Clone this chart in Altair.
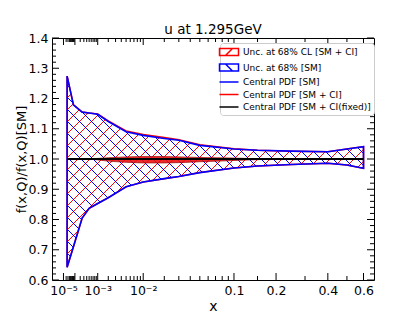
import altair as alt
import numpy as np
import pandas as pd

# ---------------- data ----------------
x_pts = [2.5e-5, 8e-5, 2.5e-4, 5e-4, 1e-3, 2e-3, 5e-3, 1e-2, 2e-2, 3e-2, 5e-2,
         0.1, 0.15, 0.25, 0.4, 0.5, 0.6]
sm_upper = [1.274, 1.179, 1.155, 1.152, 1.148, 1.124, 1.090, 1.078, 1.068, 1.062,
            1.045, 1.033, 1.029, 1.026, 1.024, 1.033, 1.041]
sm_lower = [0.642, 0.710, 0.805, 0.837, 0.853, 0.872, 0.908, 0.924, 0.935, 0.942,
            0.955, 0.970, 0.977, 0.982, 0.986, 0.980, 0.969]
ci_upper = [1.274, 1.179, 1.155, 1.152, 1.149, 1.126, 1.093, 1.081, 1.071, 1.064,
            1.047, 1.034, 1.029, 1.026, 1.024, 1.033, 1.041]
ci_lower = [0.642, 0.710, 0.805, 0.837, 0.853, 0.872, 0.908, 0.924, 0.935, 0.942,
            0.955, 0.970, 0.977, 0.982, 0.986, 0.980, 0.969]
central_sm = [1.0, 1.0, 1.0, 1.0, 1.0, 1.0, 1.0, 1.0, 1.0, 1.0,
              1.0, 1.0, 1.0, 1.0, 1.0, 1.0, 1.0]
# central SM + CI curve: its spread around 1 (upper / lower edge of the red stroke)
central_ci_hi = [1.0, 1.0, 1.0, 1.0, 1.002, 1.004, 1.007, 1.008, 1.008, 1.007,
                 1.005, 1.003, 1.001, 1.0, 1.0, 1.0, 1.0]
central_ci_lo = [1.0, 1.0, 1.0, 1.0, 0.997, 0.993, 0.989, 0.987, 0.987, 0.988,
                 0.991, 0.995, 0.998, 1.0, 1.0, 1.0, 1.0]
central_fixed = [1.0, 1.0, 1.0, 1.0, 1.0, 1.0, 1.0, 1.0, 1.0, 1.0,
                 1.0, 1.0, 1.0, 1.0, 1.0, 1.0, 1.0]

x_major = [1e-5, 1e-4, 1e-3, 1e-2, 0.1, 0.2, 0.4, 0.6]
x_labels = ["10\u207b\u2075", "", "10\u207b\u00b3", "10\u207b\u00b2", "0.1", "0.2", "0.4", "0.6"]
x_minor = [2e-5, 3e-5, 4e-5, 5e-5, 6e-5, 7e-5, 8e-5, 9e-5,
           2e-4, 3e-4, 4e-4, 5e-4, 6e-4, 7e-4, 8e-4, 9e-4,
           2e-3, 3e-3, 4e-3, 5e-3, 6e-3, 7e-3, 8e-3, 9e-3,
           0.02, 0.03, 0.04, 0.05, 0.06, 0.07, 0.08, 0.09,
           0.15, 0.3, 0.5]
y_major = [0.6, 0.7, 0.8, 0.9, 1.0, 1.1, 1.2, 1.3, 1.4]
y_minor = [round(v, 2) for v in np.arange(0.62, 1.4, 0.02) if abs(v * 10 - round(v * 10)) > 1e-6]

legend_labels = ["Unc. at 68% CL [SM + CI]", "Unc. at 68% [SM]", "Central PDF [SM]",
                 "Central PDF [SM + CI]", "Central PDF [SM + CI(fixed)]"]
legend_colors = ["red", "blue", "blue", "red", "black"]

# ---------------- geometry of the plot ----------------
W, H = 322, 242
XMAX, EXP = 0.67, 0.3
Y0, Y1 = 0.6, 1.4
FONT = "DejaVu Sans"


def to_px(x):
    return W * (np.asarray(x, dtype=float) / XMAX) ** EXP


def from_px(p):
    return XMAX * (np.asarray(p, dtype=float) / W) ** (1 / EXP)


def to_py(y):
    return H * (Y1 - np.asarray(y, dtype=float)) / (Y1 - Y0)


def from_py(p):
    return Y1 - np.asarray(p, dtype=float) * (Y1 - Y0) / H


def hatch(xs, up, lo, spacing, direction, phase=0.0):
    """45-degree hatch segments clipped to the band, returned in data units."""
    bx, bu, bl = to_px(xs), to_py(up), to_py(lo)
    p = np.append(np.arange(bx[0], bx[-1], 0.1), bx[-1])
    u = np.interp(p, bx, bu)
    l = np.interp(p, bx, bl)
    if direction > 0:
        cmin, cmax = (u - p).min(), (l - p).max()
    else:
        cmin, cmax = (u + p).min(), (l + p).max()
    c = np.floor((cmin - phase) / spacing) * spacing + phase
    segs = []
    while c <= cmax:
        yl = p + c if direction > 0 else c - p
        inside = (yl >= u) & (yl <= l)
        edges = np.flatnonzero(np.diff(np.concatenate([[0], inside.astype(int), [0]])))
        for s, e in zip(edges[::2], edges[1::2] - 1):
            if e > s:
                segs.append((float(from_px(p[s])), float(from_py(yl[s])),
                             float(from_px(p[e])), float(from_py(yl[e]))))
        c += spacing
    return pd.DataFrame(segs, columns=["x", "y", "x2", "y2"])


band = pd.DataFrame({"x": x_pts, "sm_up": sm_upper, "sm_lo": sm_lower,
                     "ci_up": ci_upper, "ci_lo": ci_lower,
                     "c_hi": central_ci_hi, "c_lo": central_ci_lo,
                     "c_sm": central_sm, "c_fx": central_fixed})
red_hatch = hatch(x_pts, ci_upper, ci_lower, 12.0, -1, 3.0)
blue_hatch = hatch(x_pts, sm_upper, sm_lower, 12.0, +1, 8.0)

xscale = alt.Scale(type="pow", exponent=EXP, domain=[0, XMAX], nice=False, zero=False)
yscale = alt.Scale(domain=[Y0, Y1], nice=False, zero=False)

label_expr = " : ".join(
    f"abs(datum.value - {v}) < {v * 1e-3} ? '{t}'" for v, t in zip(x_major, x_labels)
) + " : ''"

xaxis = alt.Axis(values=x_major, labelExpr=label_expr, ticks=False, domain=False, grid=False,
                 labelFont=FONT, labelFontSize=12.5, labelColor="black", labelPadding=4,
                 labelOverlap=False, labelFlush=False, title="x", titleFont=FONT,
                 titleFontSize=14, titleFontWeight="normal", titleColor="black",
                 titleY=30, titleBaseline="alphabetic")
yaxis = alt.Axis(values=y_major, format=".1f", ticks=False, domain=False, grid=False,
                 labelFont=FONT, labelFontSize=12.5, labelColor="black", labelPadding=4,
                 title="f(x,Q)/f(x,Q)[SM]", titleFont=FONT, titleFontSize=13,
                 titleFontWeight="normal", titleColor="black", titleX=-31, titleY=H / 2,
                 titleBaseline="middle", titleAngle=270)


def X(field="x"):
    return alt.X(f"{field}:Q", scale=xscale, axis=xaxis)


def Y(field):
    return alt.Y(f"{field}:Q", scale=yscale, axis=yaxis)


base_band = alt.Chart(band)
red_area = base_band.mark_area(fillOpacity=0, stroke="red", strokeWidth=1.5).encode(
    x=X(), y=Y("ci_up"), y2="ci_lo")
blue_area = base_band.mark_area(fillOpacity=0, stroke="blue", strokeWidth=1.6).encode(
    x=X(), y=Y("sm_up"), y2="sm_lo")
red_h = alt.Chart(red_hatch).mark_rule(color="red", strokeWidth=1).encode(
    x=X(), x2="x2", y=Y("y"), y2="y2")
blue_h = alt.Chart(blue_hatch).mark_rule(color="blue", strokeWidth=1).encode(
    x=X(), x2="x2", y=Y("y"), y2="y2")

line_sm = base_band.mark_line(color="blue", strokeWidth=1.6).encode(x=X(), y=Y("c_sm"))
line_ci = base_band.mark_area(color="#ee1111", opacity=0.9, stroke="#990000",
                              strokeWidth=0.8).encode(x=X(), y=Y("c_hi"), y2="c_lo")
line_fx = base_band.mark_line(color="black", strokeWidth=1.8).encode(x=X(), y=Y("c_fx"))

# inward ticks on all four sides
ymaj = pd.DataFrame({"v": y_major})
ymin = pd.DataFrame({"v": y_minor})
xmaj = pd.DataFrame({"v": x_major})
xmin = pd.DataFrame({"v": x_minor})
tick_layers = []
for df, ln in ((ymaj, 7), (ymin, 4)):
    tick_layers.append(alt.Chart(df).mark_rule(color="black", strokeWidth=1).encode(
        y=Y("v"), x=alt.value(0), x2=alt.value(ln)))
    tick_layers.append(alt.Chart(df).mark_rule(color="black", strokeWidth=1).encode(
        y=Y("v"), x=alt.value(W - ln), x2=alt.value(W)))
for df, ln in ((xmaj, 7), (xmin, 4)):
    tick_layers.append(alt.Chart(df).mark_rule(color="black", strokeWidth=1).encode(
        x=X("v"), y=alt.value(H - ln), y2=alt.value(H)))
    tick_layers.append(alt.Chart(df).mark_rule(color="black", strokeWidth=1).encode(
        x=X("v"), y=alt.value(0), y2=alt.value(ln)))

# legend (invisible carrier points); paths drawn wider than the nominal symbol size
rect = "M-1.9,-0.7L1.9,-0.7L1.9,0.7L-1.9,0.7Z"
shapes = [rect + "M-0.7,0.7L0.7,-0.7", rect + "M-0.7,-0.7L0.7,0.7",
          "M-1.9,0L1.9,0", "M-1.9,0L1.9,0", "M-1.9,0L1.9,0"]
leg_df = pd.DataFrame({"series": legend_labels, "x": [0.1] * 5, "y": [1.0] * 5})
leg = dict(orient="none", legendX=168, legendY=5, title=None, labelFont=FONT,
           labelFontSize=9, labelColor="black", symbolSize=100, symbolStrokeWidth=1.5,
           symbolOpacity=1, padding=3, rowPadding=1.5, strokeColor="#cccccc",
           fillColor="white", cornerRadius=3, labelOffset=8, labelLimit=300)
legend_layer = alt.Chart(leg_df).mark_point(filled=False, opacity=0).encode(
    x=X(), y=Y("y"),
    color=alt.Color("series:N", scale=alt.Scale(domain=legend_labels, range=legend_colors),
                    legend=alt.Legend(**leg)),
    shape=alt.Shape("series:N", scale=alt.Scale(domain=legend_labels, range=shapes),
                    legend=alt.Legend(**leg)),
)

chart = alt.layer(
    red_h, red_area, blue_h, blue_area, line_sm, line_ci, line_fx,
    *tick_layers, legend_layer
).properties(
    width=W, height=H,
    title=alt.TitleParams("u at 1.295GeV", font=FONT, fontSize=13.5, fontWeight="normal",
                          color="black", anchor="middle", offset=-4),
    autosize=alt.AutoSizeParams(type="none"),
    padding={"left": 44, "top": 30, "right": 30, "bottom": 34},
).configure_view(stroke="black", strokeWidth=1)

chart.save("out.html", embed_options={"renderer": "svg", "actions": False})
